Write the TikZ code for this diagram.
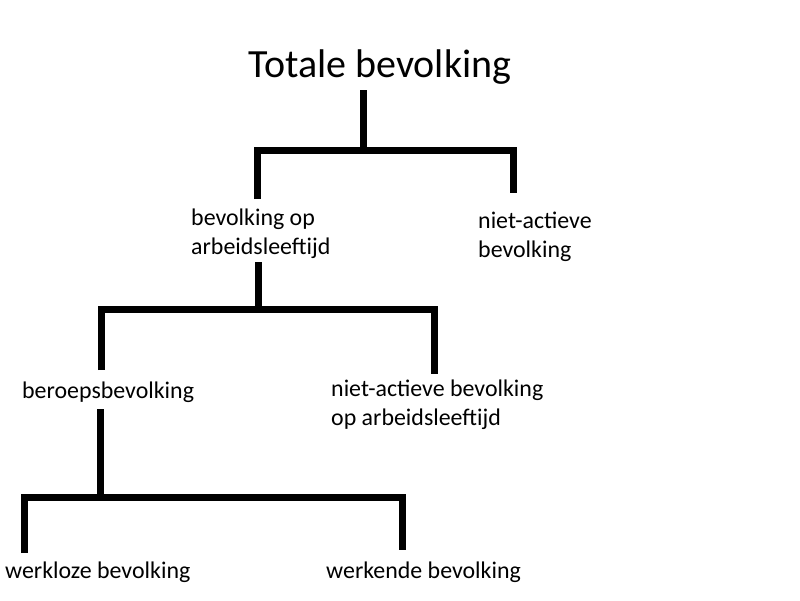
\documentclass[tikz,border=0pt]{standalone}
\usepackage{fontspec}
\setmainfont{Carlito}
\begin{document}
\begin{tikzpicture}[x=1pt,y=-1pt,
  lbl/.style={anchor=base west,inner sep=0pt,align=left,font=\fontsize{23.9}{28.5}\selectfont},
  ttl/.style={anchor=base west,inner sep=0pt,font=\fontsize{40}{48}\selectfont},
  tree/.style={line width=7pt,line join=miter,line cap=butt}]
\useasboundingbox[fill=white] (0,0) rectangle (800,600);
% labels (anchor at baseline of the last line)
\node[ttl] (root) at (248,77) {Totale bevolking};
\node[lbl] (work) at (191,254) {bevolking op\\arbeidsleeftijd};
\node[lbl] (nact) at (478,257) {niet-actieve\\bevolking};
\node[lbl] (ber) at (22,398) {beroepsbevolking};
\node[lbl] (nactw) at (331,425) {niet-actieve bevolking\\op arbeidsleeftijd};
\node[lbl] (wkl) at (5,578) {werkloze bevolking};
\node[lbl] (wkd) at (326,578) {werkende bevolking};
% junction coordinates
\coordinate (r0) at (363,90);
\coordinate (r1) at (363,151);
\coordinate (a1) at (257,150);
\coordinate (a0) at (257,199);
\coordinate (b1) at (513,150);
\coordinate (b0) at (513,193);
\coordinate (w0) at (258,262);
\coordinate (w1) at (258,310);
\coordinate (c1) at (101,309);
\coordinate (c0) at (101,370);
\coordinate (d1) at (434,309);
\coordinate (d0) at (434,374);
\coordinate (e0) at (100,409);
\coordinate (e1) at (100,498);
\coordinate (f1) at (24,497);
\coordinate (f0) at (24,553);
\coordinate (g1) at (402,497);
\coordinate (g0) at (402,550);
% connectors
\draw[tree] (r0) -- (r1);
\draw[tree] (a0) -- (a1) -- (b1) -- (b0);
\draw[tree] (w0) -- (w1);
\draw[tree] (c0) -- (c1) -- (d1) -- (d0);
\draw[tree] (e0) -- (e1);
\draw[tree] (f0) -- (f1) -- (g1) -- (g0);
\end{tikzpicture}
\end{document}
